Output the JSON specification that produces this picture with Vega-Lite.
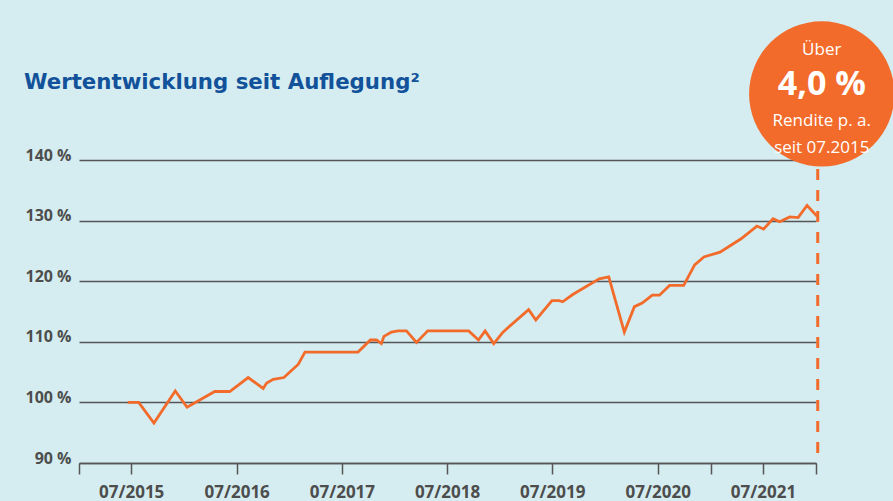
{
  "$schema": "https://vega.github.io/schema/vega-lite/v6.json",
  "width": 737,
  "height": 303,
  "autosize": {"type": "none"},
  "padding": {"left": 79, "top": 160, "right": 77, "bottom": 38},
  "background": "#d5edf0",
  "config": {"view": {"stroke": null}, "font": "Open Sans"},
  "title": {
    "text": "Wertentwicklung seit Auflegung²",
    "anchor": "start",
    "frame": "group",
    "orient": "top",
    "font": "DejaVu Sans",
    "fontSize": 21.3,
    "fontWeight": "bold",
    "color": "#12529a",
    "dx": -55,
    "baseline": "alphabetic",
    "offset": -89
  },
  "datasets": {
    "series": [
      {"date": "2015-06-19", "value": 100.0},
      {"date": "2015-07-27", "value": 100.0},
      {"date": "2015-09-18", "value": 96.6},
      {"date": "2015-12-01", "value": 101.9},
      {"date": "2016-01-11", "value": 99.2},
      {"date": "2016-04-16", "value": 101.8},
      {"date": "2016-06-07", "value": 101.8},
      {"date": "2016-08-10", "value": 104.1},
      {"date": "2016-10-01", "value": 102.3},
      {"date": "2016-10-13", "value": 103.2},
      {"date": "2016-11-05", "value": 103.8},
      {"date": "2016-12-12", "value": 104.1},
      {"date": "2017-01-31", "value": 106.3},
      {"date": "2017-02-23", "value": 108.3},
      {"date": "2017-08-26", "value": 108.3},
      {"date": "2017-10-08", "value": 110.3},
      {"date": "2017-10-29", "value": 110.3},
      {"date": "2017-11-15", "value": 109.7},
      {"date": "2017-11-24", "value": 110.9},
      {"date": "2017-12-20", "value": 111.6},
      {"date": "2018-01-12", "value": 111.8},
      {"date": "2018-02-10", "value": 111.8},
      {"date": "2018-03-17", "value": 109.9},
      {"date": "2018-04-25", "value": 111.8},
      {"date": "2018-09-14", "value": 111.8},
      {"date": "2018-10-18", "value": 110.3},
      {"date": "2018-11-10", "value": 111.8},
      {"date": "2018-12-10", "value": 109.7},
      {"date": "2019-01-11", "value": 111.6},
      {"date": "2019-04-10", "value": 115.3},
      {"date": "2019-05-05", "value": 113.6},
      {"date": "2019-06-30", "value": 116.8},
      {"date": "2019-07-25", "value": 116.8},
      {"date": "2019-08-06", "value": 116.6},
      {"date": "2019-09-10", "value": 117.8},
      {"date": "2019-12-11", "value": 120.4},
      {"date": "2020-01-13", "value": 120.7},
      {"date": "2020-03-07", "value": 111.6},
      {"date": "2020-04-11", "value": 115.8},
      {"date": "2020-05-08", "value": 116.4},
      {"date": "2020-06-12", "value": 117.7},
      {"date": "2020-07-07", "value": 117.7},
      {"date": "2020-08-11", "value": 119.3},
      {"date": "2020-09-29", "value": 119.3},
      {"date": "2020-11-06", "value": 122.7},
      {"date": "2020-12-08", "value": 124.0},
      {"date": "2021-02-02", "value": 124.8},
      {"date": "2021-04-16", "value": 127.0},
      {"date": "2021-06-10", "value": 129.1},
      {"date": "2021-07-03", "value": 128.6},
      {"date": "2021-08-05", "value": 130.3},
      {"date": "2021-08-28", "value": 129.8},
      {"date": "2021-10-02", "value": 130.6},
      {"date": "2021-10-31", "value": 130.5},
      {"date": "2021-12-01", "value": 132.5},
      {"date": "2022-01-05", "value": 130.7}
    ],
    "marker": [
      {"date": "2022-01-07", "low": 90, "high": 150.9}
    ],
    "badge": [
      {"date": "2022-01-21", "value": 150.9, "l1": "Über", "l2": "4,0 %", "l3": "Rendite p. a.", "l4": "seit 07.2015"}
    ]
  },
  "layer": [
    {
      "data": {"name": "series"},
      "mark": {"type": "line", "color": "#f26b2b", "strokeWidth": 2.8, "strokeJoin": "miter"},
      "encoding": {
        "x": {
          "field": "date",
          "type": "temporal",
          "scale": {"domain": [{"year": 2015, "month": 1, "date": 1}, {"year": 2022, "month": 1, "date": 1}], "nice": false},
          "axis": {
            "title": null,
            "grid": false,
            "values": [
              {"year": 2015, "month": 1, "date": 1},
              {"year": 2015, "month": 7, "date": 1},
              {"year": 2016, "month": 7, "date": 1},
              {"year": 2017, "month": 7, "date": 1},
              {"year": 2018, "month": 7, "date": 1},
              {"year": 2019, "month": 7, "date": 1},
              {"year": 2020, "month": 7, "date": 1},
              {"year": 2021, "month": 1, "date": 1},
              {"year": 2021, "month": 7, "date": 1},
              {"year": 2022, "month": 1, "date": 1}
            ],
            "labelExpr": "month(datum.value) == 6 ? timeFormat(datum.value, '%m/%Y') : ''",
            "labelFont": "Open Sans",
            "labelFontSize": 17,
            "labelFontWeight": "bold",
            "labelColor": "#4d4d4d",
            "labelPadding": 10,
            "labelFlush": false,
            "labelOverlap": false,
            "tickSize": 11,
            "tickColor": "#555555",
            "tickWidth": 1.5,
            "domainColor": "#555555",
            "domainWidth": 1.5
          }
        },
        "y": {
          "field": "value",
          "type": "quantitative",
          "scale": {"domain": [90, 140], "nice": false, "zero": false},
          "axis": {
            "title": null,
            "values": [90, 100, 110, 120, 130, 140],
            "labelExpr": "datum.value + ' %'",
            "labelFont": "Open Sans",
            "labelFontSize": 16,
            "labelFontWeight": "bold",
            "labelColor": "#4d4d4d",
            "labelBaseline": "alphabetic",
            "labelPadding": 8,
            "ticks": false,
            "domain": false,
            "grid": true,
            "gridColor": "#555555",
            "gridWidth": 1.4
          }
        }
      }
    },
    {
      "data": {"name": "marker"},
      "mark": {"type": "rule", "color": "#f26b2b", "strokeWidth": 3, "strokeDash": [11, 10], "strokeDashOffset": 11},
      "encoding": {
        "x": {"field": "date", "type": "temporal"},
        "y": {"field": "low", "type": "quantitative"},
        "y2": {"field": "high"}
      }
    },
    {
      "data": {"name": "badge"},
      "mark": {"type": "point", "shape": "circle", "filled": true, "color": "#f26b2b", "opacity": 1, "size": 21124},
      "encoding": {
        "x": {"field": "date", "type": "temporal"},
        "y": {"field": "value", "type": "quantitative"}
      }
    },
    {
      "data": {"name": "badge"},
      "mark": {"type": "text", "color": "white", "font": "Open Sans", "fontSize": 17, "baseline": "middle", "align": "center", "dy": -44},
      "encoding": {
        "x": {"field": "date", "type": "temporal"},
        "y": {"field": "value", "type": "quantitative"},
        "text": {"field": "l1"}
      }
    },
    {
      "data": {"name": "badge"},
      "mark": {"type": "text", "color": "white", "font": "Open Sans", "fontSize": 34, "fontWeight": "bold", "baseline": "middle", "align": "center", "dy": -9},
      "encoding": {
        "x": {"field": "date", "type": "temporal"},
        "y": {"field": "value", "type": "quantitative"},
        "text": {"field": "l2"}
      }
    },
    {
      "data": {"name": "badge"},
      "mark": {"type": "text", "color": "white", "font": "Open Sans", "fontSize": 17, "baseline": "middle", "align": "center", "dy": 27},
      "encoding": {
        "x": {"field": "date", "type": "temporal"},
        "y": {"field": "value", "type": "quantitative"},
        "text": {"field": "l3"}
      }
    },
    {
      "data": {"name": "badge"},
      "mark": {"type": "text", "color": "white", "font": "Open Sans", "fontSize": 17, "baseline": "middle", "align": "center", "dy": 54},
      "encoding": {
        "x": {"field": "date", "type": "temporal"},
        "y": {"field": "value", "type": "quantitative"},
        "text": {"field": "l4"}
      }
    }
  ]
}
